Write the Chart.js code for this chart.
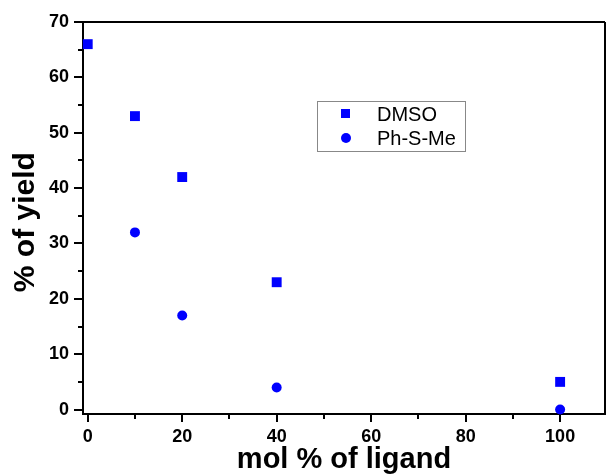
<!DOCTYPE html>
<html>
<head>
<meta charset="utf-8">
<script src="https://cdn.jsdelivr.net/npm/chart.js@4.4.1/dist/chart.umd.min.js"></script>
<style>
  body { margin: 0; background: #fff; }
  canvas { display: block; }
</style>
</head>
<body>
<canvas id="mycanvas" width="606" height="475"></canvas>
<script>
// data
var dmsoX = [0, 10, 20, 40, 100];
var dmsoY = [66, 53, 42, 23, 5];
var phsmeX = [10, 20, 40, 100];
var phsmeY = [32, 17, 4, 0];

var xTicks = [0, 20, 40, 60, 80, 100];
var xMinor = [10, 30, 50, 70, 90];
var yTicks = [0, 10, 20, 30, 40, 50, 60, 70];
var yMinor = [5, 15, 25, 35, 45, 55, 65];

function toPoints(xs, ys) {
	var pts = [];
	for (var i in xs) {
		pts.push({x: xs[i], y: ys[i]});
	}
	return pts;
}

// minor ticks, box border and the legend inside the plot
var extras = {
	id: 'extras',
	afterDraw: function(chart) {
		var ctx = chart.ctx;
		var a = chart.chartArea;
		var xs = chart.scales.x, ys = chart.scales.y;
		ctx.save();
		ctx.strokeStyle = '#000';
		ctx.lineWidth = 2;
		ctx.beginPath();
		xMinor.forEach(function(v) {
			var px = Math.round(xs.getPixelForValue(v));
			ctx.moveTo(px, a.bottom);
			ctx.lineTo(px, a.bottom + 5);
		});
		yMinor.forEach(function(v) {
			var py = Math.round(ys.getPixelForValue(v));
			ctx.moveTo(a.left, py);
			ctx.lineTo(a.left - 5, py);
		});
		// top and right border
		ctx.moveTo(a.left - 1, a.top);
		ctx.lineTo(a.right, a.top);
		ctx.moveTo(a.right, a.top);
		ctx.lineTo(a.right, a.bottom);
		ctx.stroke();

		// legend box
		ctx.lineWidth = 1;
		ctx.strokeStyle = '#888';
		ctx.strokeRect(317.5, 101.5, 148, 50);
		ctx.fillStyle = '#0000ff';
		ctx.fillRect(341, 109, 9, 9);
		ctx.beginPath();
		ctx.arc(346, 138, 5, 0, Math.PI * 2);
		ctx.fill();
		ctx.fillStyle = '#000';
		ctx.font = '20px "Liberation Sans", Arial, sans-serif';
		ctx.textBaseline = 'middle';
		ctx.fillText('DMSO', 377, 115);
		ctx.fillText('Ph-S-Me', 377, 139);
		ctx.restore();
	}
};

var tickFont = {family: '"Liberation Sans", Arial, sans-serif', size: 18, weight: 'bold'};
var titleFont = {family: '"Liberation Sans", Arial, sans-serif', size: 29, weight: 'bold', lineHeight: 1};

var chart = new Chart(document.getElementById('mycanvas'), {
	type: 'scatter',
	data: {
		datasets: [
			{
				label: 'DMSO',
				data: toPoints(dmsoX, dmsoY),
				pointStyle: 'rect',
				pointRadius: 7,
				pointHoverRadius: 7,
				backgroundColor: '#0000ff',
				borderColor: '#0000ff',
				borderWidth: 0
			},
			{
				label: 'Ph-S-Me',
				data: toPoints(phsmeX, phsmeY),
				pointStyle: 'circle',
				pointRadius: 5,
				pointHoverRadius: 5,
				backgroundColor: '#0000ff',
				borderColor: '#0000ff',
				borderWidth: 0
			}
		]
	},
	options: {
		responsive: false,
		animation: false,
		clip: false,
		layout: {autoPadding: false, padding: {top: 22, right: 1, left: 0, bottom: 0}},
		plugins: {
			legend: {display: false},
			tooltip: {enabled: false}
		},
		scales: {
			x: {
				type: 'linear',
				min: -1,
				max: 109.5,
				afterBuildTicks: function(s) {
					s.ticks = xTicks.map(function(v) { return {value: v}; });
				},
				afterFit: function(s) {
					s.height = 61;
					s.paddingLeft = 0;
					s.paddingRight = 0;
				},
				border: {display: true, color: '#000', width: 2},
				grid: {drawOnChartArea: false, color: '#000', lineWidth: 2, tickLength: 8},
				ticks: {color: '#000', font: tickFont, padding: 4, maxRotation: 0},
				title: {display: true, text: 'mol % of ligand', color: '#000', font: titleFont, padding: {top: 0, bottom: 1}}
			},
			y: {
				type: 'linear',
				min: -0.8,
				max: 70,
				afterBuildTicks: function(s) {
					s.ticks = yTicks.map(function(v) { return {value: v}; });
				},
				afterFit: function(s) { s.width = 83; },
				border: {display: true, color: '#000', width: 2},
				grid: {drawOnChartArea: false, color: '#000', lineWidth: 2, tickLength: 9},
				ticks: {color: '#000', font: tickFont, padding: 5},
				title: {display: true, text: '% of yield ', color: '#000', font: {family: '"Liberation Sans", Arial, sans-serif', size: 30, weight: 'bold', lineHeight: 1}, padding: {top: 11, bottom: 0}}
			}
		}
	},
	plugins: [extras]
});
</script>
</body>
</html>
